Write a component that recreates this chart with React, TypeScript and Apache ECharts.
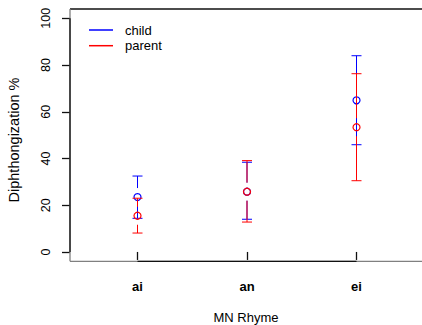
import React, { useEffect, useRef } from "react";
import * as echarts from "echarts";

const categories = ["ai", "an", "ei"];
const positions = [1, 2, 3];
const yTicks = [0, 20, 40, 60, 80, 100];

// [mean, lower, upper]
const childMean = [23.5, 25.8, 64.9];
const childLow = [14.4, 14.0, 45.9];
const childHigh = [32.5, 38.4, 84.0];

const parentMean = [15.5, 25.8, 53.4];
const parentLow = [8.1, 12.8, 30.5];
const parentHigh = [23.0, 39.1, 76.3];

const X_MIN = 0.3836;
const X_MAX = 3.598;
const Y_MIN = -4;
const Y_MAX = 104;

const FONT = "'Liberation Sans', Arial, Helvetica, sans-serif";

function buildData(mean: number[], low: number[], high: number[]) {
  return positions.map((p, i) => [p, mean[i], low[i], high[i]]);
}

function errRender(color: string) {
  return (params: any, api: any) => {
    const x = api.value(0);
    const m = api.value(1);
    const lo = api.value(2);
    const hi = api.value(3);
    const p = api.coord([x, m]);
    const pHi = api.coord([x, hi]);
    const pLo = api.coord([x, lo]);
    const gap = 9;
    const cap = 5;
    const style = { stroke: color, lineWidth: 1, fill: null };
    const children: any[] = [];
    if (pHi[1] < p[1] - gap) {
      children.push({ type: "line", shape: { x1: p[0], y1: pHi[1], x2: p[0], y2: p[1] - gap }, style });
    }
    if (pLo[1] > p[1] + gap) {
      children.push({ type: "line", shape: { x1: p[0], y1: p[1] + gap, x2: p[0], y2: pLo[1] }, style });
    }
    children.push({ type: "line", shape: { x1: p[0] - cap, y1: pHi[1], x2: p[0] + cap, y2: pHi[1] }, style });
    children.push({ type: "line", shape: { x1: p[0] - cap, y1: pLo[1], x2: p[0] + cap, y2: pLo[1] }, style });
    children.push({ type: "circle", shape: { cx: p[0], cy: p[1], r: 3.5 }, style: { stroke: color, lineWidth: 1.2, fill: "none" } });
    return { type: "group", children };
  };
}

function frameRender(params: any, api: any) {
  const tl = api.coord([X_MIN, Y_MAX]);
  const tr = api.coord([X_MAX, Y_MAX]);
  const bl = api.coord([X_MIN, Y_MIN]);
  const br = api.coord([X_MAX, Y_MIN]);
  const y0 = api.coord([X_MIN, yTicks[0]]);
  const y1 = api.coord([X_MIN, yTicks[yTicks.length - 1]]);
  const x0 = api.coord([positions[0], Y_MIN]);
  const x1 = api.coord([positions[positions.length - 1], Y_MIN]);
  const gray = { stroke: "#808080", lineWidth: 1.3 };
  const black = { stroke: "#111", lineWidth: 1.3 };
  return {
    type: "group",
    children: [
      { type: "line", shape: { x1: tl[0], y1: tl[1], x2: tr[0] + 10, y2: tr[1] }, style: black },
      { type: "line", shape: { x1: bl[0], y1: bl[1], x2: tl[0], y2: tl[1] }, style: gray },
      { type: "line", shape: { x1: bl[0], y1: bl[1], x2: br[0] + 10, y2: br[1] }, style: gray },
      { type: "line", shape: { x1: y0[0], y1: y0[1], x2: y1[0], y2: y1[1] }, style: black },
      { type: "line", shape: { x1: x0[0], y1: x0[1], x2: x1[0], y2: x1[1] }, style: black },
    ],
  };
}

export default function App() {
  const ref = useRef<HTMLDivElement>(null);
  useEffect(() => {
    if (!ref.current) return;
    const chart = echarts.init(ref.current, undefined, { renderer: "svg" });
    chart.setOption({
      animation: false,
      backgroundColor: "#ffffff",
      textStyle: { fontFamily: FONT },
      grid: { left: 70, right: 0, top: 9, bottom: 63.7, containLabel: false, outerBoundsMode: "none" },
      legend: {
        orient: "vertical",
        left: 89,
        top: 23.5,
        padding: 0,
        itemWidth: 24,
        itemHeight: 1.5,
        itemGap: 2.7,
        icon: "rect",
        textStyle: { fontSize: 13, lineHeight: 13, color: "#000", fontFamily: FONT, padding: [0, 0, 0, 7] },
        data: [
          { name: "child", itemStyle: { color: "#0000ff" } },
          { name: "parent", itemStyle: { color: "#ff0000" } },
        ],
      },
      graphic: [
        {
          type: "text",
          x: 14,
          y: 140,
          rotation: Math.PI / 2,
          style: {
            text: "Diphthongization %",
            fontSize: 14.5,
            fontFamily: FONT,
            fill: "#000",
            align: "center",
            verticalAlign: "middle",
          },
        },
      ],
      xAxis: {
        type: "value",
        min: X_MIN,
        max: X_MAX,
        name: "MN Rhyme",
        nameLocation: "middle",
        nameGap: 50,
        nameTextStyle: { fontSize: 13, color: "#000", fontFamily: FONT },
        axisLine: { show: false },
        splitLine: { show: false },
        axisTick: { show: true, customValues: positions, length: 8, lineStyle: { color: "#111", width: 1.3 } },
        axisLabel: {
          customValues: positions,
          formatter: (v: number) => categories[Math.round(v) - 1] ?? "",
          fontSize: 13,
          fontWeight: "bold",
          color: "#000",
          margin: 19,
          fontFamily: FONT,
        },
      },
      yAxis: {
        type: "value",
        min: Y_MIN,
        max: Y_MAX,
        axisLine: { show: false },
        splitLine: { show: false },
        axisTick: { show: true, customValues: yTicks, length: 8, lineStyle: { color: "#111", width: 1.3 } },
        axisLabel: {
          customValues: yTicks,
          rotate: 90,
          fontSize: 12.5,
          color: "#000",
          margin: 18,
          fontFamily: FONT,
        },
      },
      series: [
        {
          type: "custom",
          name: "frame",
          silent: true,
          clip: false,
          renderItem: frameRender,
          data: [[X_MIN, Y_MIN]],
          encode: { x: 0, y: 1 },
          z: 1,
        },
        {
          type: "custom",
          name: "child",
          clip: false,
          itemStyle: { color: "#0000ff" },
          renderItem: errRender("#0000ff"),
          data: buildData(childMean, childLow, childHigh),
          encode: { x: 0, y: 1 },
          z: 2,
        },
        {
          type: "custom",
          name: "parent",
          clip: false,
          itemStyle: { color: "#ff0000" },
          renderItem: errRender("#ff0000"),
          data: buildData(parentMean, parentLow, parentHigh),
          encode: { x: 0, y: 1 },
          z: 3,
        },
      ],
    });
    return () => chart.dispose();
  }, []);
  return (
    <div
      ref={ref}
      style={{ position: "fixed", left: 0, top: 0, width: 422, height: 325, background: "#fff" }}
    />
  );
}
